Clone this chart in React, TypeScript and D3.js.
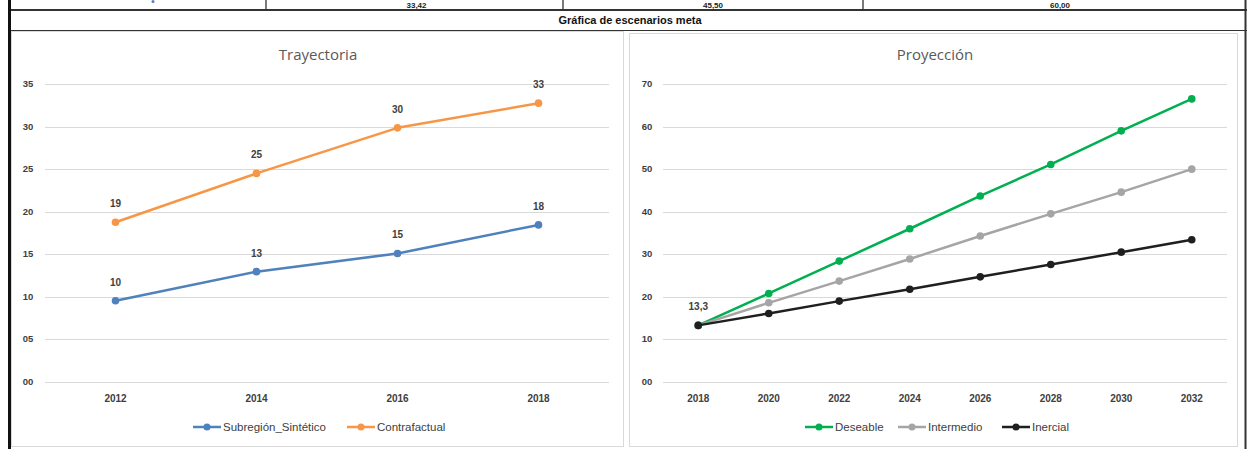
import { useEffect, useRef } from "react";
import * as d3 from "d3";

// Trayectoria (left chart)
const trayYears = ["2012", "2014", "2016", "2018"];
const subregion = [9.55, 12.96, 15.1, 18.45];
const contrafactual = [18.76, 24.5, 29.85, 32.75];
const subregionLabels = ["10", "13", "15", "18"];
const contrafactualLabels = ["19", "25", "30", "33"];

// Proyección (right chart)
const projYears = ["2018", "2020", "2022", "2024", "2026", "2028", "2030", "2032"];
const deseable = [13.3, 20.8, 28.4, 36.0, 43.7, 51.1, 59.0, 66.5];
const intermedio = [13.3, 18.6, 23.7, 28.9, 34.3, 39.5, 44.6, 50.0];
const inercial = [13.3, 16.1, 19.0, 21.8, 24.7, 27.6, 30.5, 33.4];

// header row values (mostly scrolled out of view in the original)
const headerCells = ["", "33,42", "45,50", "60,00"];

const FONT = "'Liberation Sans Narrow', 'Liberation Sans', Arial, sans-serif";
const GRID = "#d9d9d9";
const TEXT = "#404040";

interface Series {
  name: string;
  values: number[];
  color: string;
  labels: (string | null)[];
}

export default function App() {
  const svgRef = useRef<SVGSVGElement>(null);

  useEffect(() => {
    const svg = d3.select(svgRef.current);
    svg.selectAll("*").remove();

    svg.append("rect").attr("width", 1247).attr("height", 449).attr("fill", "#fff");

    // header table row
    const cellEdges = [10, 266, 563, 863, 1245];
    headerCells.forEach((t, i) => {
      const cx = i === 2 ? 713 : i === 3 ? 1060 : (cellEdges[i] + cellEdges[i + 1]) / 2 + 2;
      svg
        .append("text")
        .attr("x", cx)
        .attr("y", 8)
        .attr("text-anchor", "middle")
        .style("font-family", FONT)
        .style("font-size", "8px")
        .style("font-weight", "bold")
        .style("fill", "#222")
        .text(t);
    });
    svg.append("circle").attr("cx", 153).attr("cy", 1.5).attr("r", 1.5).attr("fill", "#4f81bd");
    [266, 563, 863].forEach((x) => {
      svg.append("line").attr("x1", x).attr("x2", x).attr("y1", 0).attr("y2", 10)
        .attr("stroke", "#222").attr("stroke-width", 1.2);
    });
    svg.append("line").attr("x1", 8).attr("x2", 1247).attr("y1", 10).attr("y2", 10)
      .attr("stroke", "#333").attr("stroke-width", 2);
    svg.append("line").attr("x1", 8).attr("x2", 1247).attr("y1", 30.5).attr("y2", 30.5)
      .attr("stroke", "#333").attr("stroke-width", 1.2);

    svg
      .append("text")
      .attr("x", 630)
      .attr("y", 24)
      .attr("text-anchor", "middle")
      .style("font-family", FONT)
      .style("font-size", "11px")
      .style("font-weight", "bold")
      .style("fill", "#111")
      .text("Gráfica de escenarios meta");

    // outer borders
    svg.append("line").attr("x1", 9.5).attr("x2", 9.5).attr("y1", 0).attr("y2", 449)
      .attr("stroke", "#111").attr("stroke-width", 3);
    svg.append("line").attr("x1", 1245.5).attr("x2", 1245.5).attr("y1", 0).attr("y2", 449)
      .attr("stroke", "#333").attr("stroke-width", 2);

    // panels
    svg.append("rect").attr("x", 11.5).attr("y", 31.5).attr("width", 612).attr("height", 415)
      .attr("fill", "none").attr("stroke", GRID);
    svg.append("rect").attr("x", 629.5).attr("y", 33.5).attr("width", 608).attr("height", 413)
      .attr("fill", "none").attr("stroke", GRID);

    const drawChart = (
      title: string,
      titleX: number,
      years: string[],
      series: Series[],
      yMax: number,
      yStep: number,
      xRange: [number, number],
      labelX: number,
      legendX: number[]
    ) => {
      const x = d3.scaleBand().domain(years).range(xRange);
      const y = d3.scaleLinear().domain([0, yMax]).range([382, 84]);
      const cx = (d: string) => (x(d) as number) + x.bandwidth() / 2;
      const ticks = d3.range(0, yMax + 0.01, yStep);

      const g = svg.append("g");

      g.append("text")
        .attr("x", titleX)
        .attr("y", 60)
        .attr("text-anchor", "middle")
        .style("font-family", "'Open Sans', 'Liberation Sans', sans-serif")
        .style("font-size", "15px")
        .style("fill", "#595959")
        .text(title);

      // grid + y labels
      ticks.forEach((t) => {
        g.append("line")
          .attr("x1", xRange[0]).attr("x2", xRange[1])
          .attr("y1", Math.round(y(t)) + 0.5).attr("y2", Math.round(y(t)) + 0.5)
          .attr("stroke", GRID).attr("stroke-width", 1);
        g.append("text")
          .attr("x", labelX)
          .attr("y", y(t) + 3)
          .attr("text-anchor", "middle")
          .style("font-family", FONT)
          .style("font-size", "9.5px")
          .style("font-weight", "bold")
          .style("fill", TEXT)
          .text(d3.format("02d")(t));
      });

      // x labels
      years.forEach((yr) => {
        g.append("text")
          .attr("x", cx(yr))
          .attr("y", 402)
          .attr("text-anchor", "middle")
          .style("font-family", FONT)
          .style("font-size", "10px")
          .style("font-weight", "bold")
          .style("fill", TEXT)
          .text(yr);
      });

      const line = d3
        .line<number>()
        .x((_, i) => cx(years[i]))
        .y((d) => y(d));

      series.forEach((s) => {
        g.append("path")
          .datum(s.values)
          .attr("fill", "none")
          .attr("stroke", s.color)
          .attr("stroke-width", 2.5)
          .attr("stroke-linejoin", "round")
          .attr("d", line);
        g.selectAll(null)
          .data(s.values)
          .enter()
          .append("circle")
          .attr("cx", (_, i) => cx(years[i]))
          .attr("cy", (d) => y(d))
          .attr("r", 3.8)
          .attr("fill", s.color);
      });

      series.forEach((s) => {
        s.values.forEach((v, i) => {
          const lbl = s.labels[i];
          if (!lbl) return;
          g.append("text")
            .attr("x", cx(years[i]))
            .attr("y", y(v) - 15)
            .attr("text-anchor", "middle")
            .style("font-family", FONT)
            .style("font-size", "10px")
            .style("font-weight", "bold")
            .style("fill", TEXT)
            .text(lbl);
        });
      });

      // legend
      series.forEach((s, i) => {
        const lx = legendX[i];
        g.append("line")
          .attr("x1", lx).attr("x2", lx + 28)
          .attr("y1", 427).attr("y2", 427)
          .attr("stroke", s.color).attr("stroke-width", 2.5);
        g.append("circle").attr("cx", lx + 14).attr("cy", 427).attr("r", 3.5).attr("fill", s.color);
        g.append("text")
          .attr("x", lx + 30)
          .attr("y", 431)
          .style("font-family", FONT)
          .style("font-size", "11.5px")
          .style("fill", TEXT)
          .text(s.name);
      });
    };

    drawChart(
      "Trayectoria",
      318,
      trayYears,
      [
        { name: "Subregión_Sintético", values: subregion, color: "#4f81bd", labels: subregionLabels },
        { name: "Contrafactual", values: contrafactual, color: "#f79646", labels: contrafactualLabels },
      ],
      35,
      5,
      [45, 609],
      28,
      [193, 347]
    );

    drawChart(
      "Proyección",
      935,
      projYears,
      [
        { name: "Deseable", values: deseable, color: "#00b050", labels: [] },
        { name: "Intermedio", values: intermedio, color: "#a5a5a5", labels: [] },
        { name: "Inercial", values: inercial, color: "#1f1f1f", labels: ["13,3"] },
      ],
      70,
      10,
      [663, 1227],
      647,
      [805, 898, 1002]
    );
  }, []);

  return (
    <svg
      ref={svgRef}
      width={1247}
      height={449}
      style={{ position: "absolute", left: 0, top: 0, display: "block" }}
    />
  );
}
